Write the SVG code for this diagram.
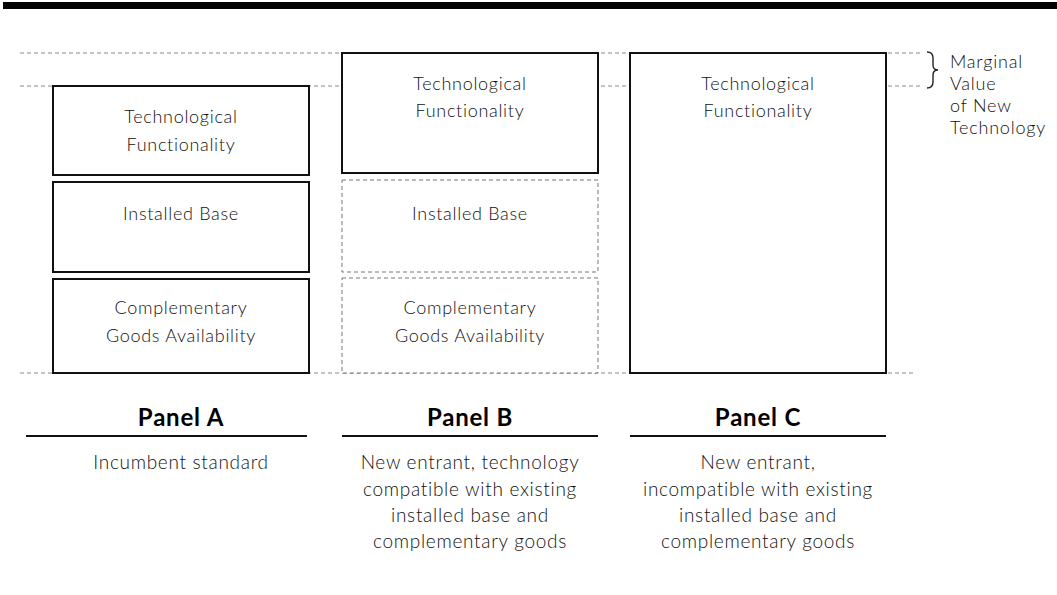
<svg xmlns="http://www.w3.org/2000/svg" width="1057" height="595" viewBox="0 0 1057 595">
  <style>
    .txt { font-family: Lato, "Open Sans", "Liberation Sans", sans-serif; font-weight: 300; font-size: 18px; letter-spacing: 0.7px; fill: #111; text-anchor: middle; }
    .desc { font-family: Lato, "Open Sans", "Liberation Sans", sans-serif; font-weight: 300; font-size: 19px; letter-spacing: 0.7px; fill: #111; text-anchor: middle; }
    .side { font-family: Lato, "Open Sans", "Liberation Sans", sans-serif; font-weight: 300; font-size: 18px; letter-spacing: 0.8px; fill: #111; }
    .head { font-family: Lato, "Open Sans", "Liberation Sans", sans-serif; font-weight: 700; font-size: 24px; letter-spacing: 0.8px; fill: #000; text-anchor: middle; }
    .solid { fill: #fff; stroke: #111; stroke-width: 2; }
    .dash { fill: #fff; stroke: #777; stroke-width: 1; stroke-dasharray: 4 3; }
    .guide { stroke: #888; stroke-width: 1; stroke-dasharray: 4 3; fill: none; }
    .rule { stroke: #111; stroke-width: 2; }
  </style>
  <rect width="1057" height="595" fill="#fff"/>
  <!-- heavy top rule -->
  <rect x="3" y="2" width="1054" height="7" fill="#000"/>

  <!-- guide lines and brace -->
  <g id="connectors">
    <line class="guide" x1="20" y1="53" x2="920" y2="53"/>
    <line class="guide" x1="20" y1="86" x2="920" y2="86"/>
    <line class="guide" x1="20" y1="373" x2="915" y2="373"/>
    <path d="M927,52 q6,0 6,6 v7 q0,5 5,5 q-5,0 -5,5 v7 q0,6 -6,6" fill="none" stroke="#222" stroke-width="1.4"/>
  </g>

  <!-- Panel A -->
  <g id="panelA">
    <g id="a-tech">
      <rect class="solid" x="53" y="86" width="256" height="89"/>
      <text class="txt" x="181" y="123">Technological</text>
      <text class="txt" x="181" y="151">Functionality</text>
    </g>
    <g id="a-base">
      <rect class="solid" x="53" y="182" width="256" height="90"/>
      <text class="txt" x="181" y="220">Installed Base</text>
    </g>
    <g id="a-comp">
      <rect class="solid" x="53" y="279" width="256" height="94"/>
      <text class="txt" x="181" y="314">Complementary</text>
      <text class="txt" x="181" y="342">Goods Availability</text>
    </g>
    <text class="head" x="181" y="426">Panel A</text>
    <line class="rule" x1="26" y1="436" x2="307" y2="436"/>
    <text class="desc" x="181" y="469">Incumbent standard</text>
  </g>

  <!-- Panel B -->
  <g id="panelB">
    <g id="b-tech">
      <rect class="solid" x="342" y="53" width="256" height="120"/>
      <text class="txt" x="470" y="90">Technological</text>
      <text class="txt" x="470" y="117">Functionality</text>
    </g>
    <g id="b-base">
      <rect class="dash" x="342" y="180" width="256" height="92"/>
      <text class="txt" x="470" y="220">Installed Base</text>
    </g>
    <g id="b-comp">
      <rect class="dash" x="342" y="278" width="256" height="95"/>
      <text class="txt" x="470" y="314">Complementary</text>
      <text class="txt" x="470" y="342">Goods Availability</text>
    </g>
    <text class="head" x="470" y="426">Panel B</text>
    <line class="rule" x1="342" y1="436" x2="598" y2="436"/>
    <text class="desc" x="470" y="469">New entrant, technology</text>
    <text class="desc" x="470" y="496">compatible with existing</text>
    <text class="desc" x="470" y="522">installed base and</text>
    <text class="desc" x="470" y="548">complementary goods</text>
  </g>

  <!-- Panel C -->
  <g id="panelC">
    <g id="c-tech">
      <rect class="solid" x="630" y="53" width="256" height="320"/>
      <text class="txt" x="758" y="90">Technological</text>
      <text class="txt" x="758" y="117">Functionality</text>
    </g>
    <text class="head" x="758" y="426">Panel C</text>
    <line class="rule" x1="630" y1="436" x2="886" y2="436"/>
    <text class="desc" x="758" y="469">New entrant,</text>
    <text class="desc" x="758" y="496">incompatible with existing</text>
    <text class="desc" x="758" y="522">installed base and</text>
    <text class="desc" x="758" y="548">complementary goods</text>
  </g>

  <!-- side note -->
  <g id="marginal">
    <text class="side" x="950" y="68">Marginal</text>
    <text class="side" x="950" y="90">Value</text>
    <text class="side" x="950" y="112">of New</text>
    <text class="side" x="950" y="134">Technology</text>
  </g>
</svg>
